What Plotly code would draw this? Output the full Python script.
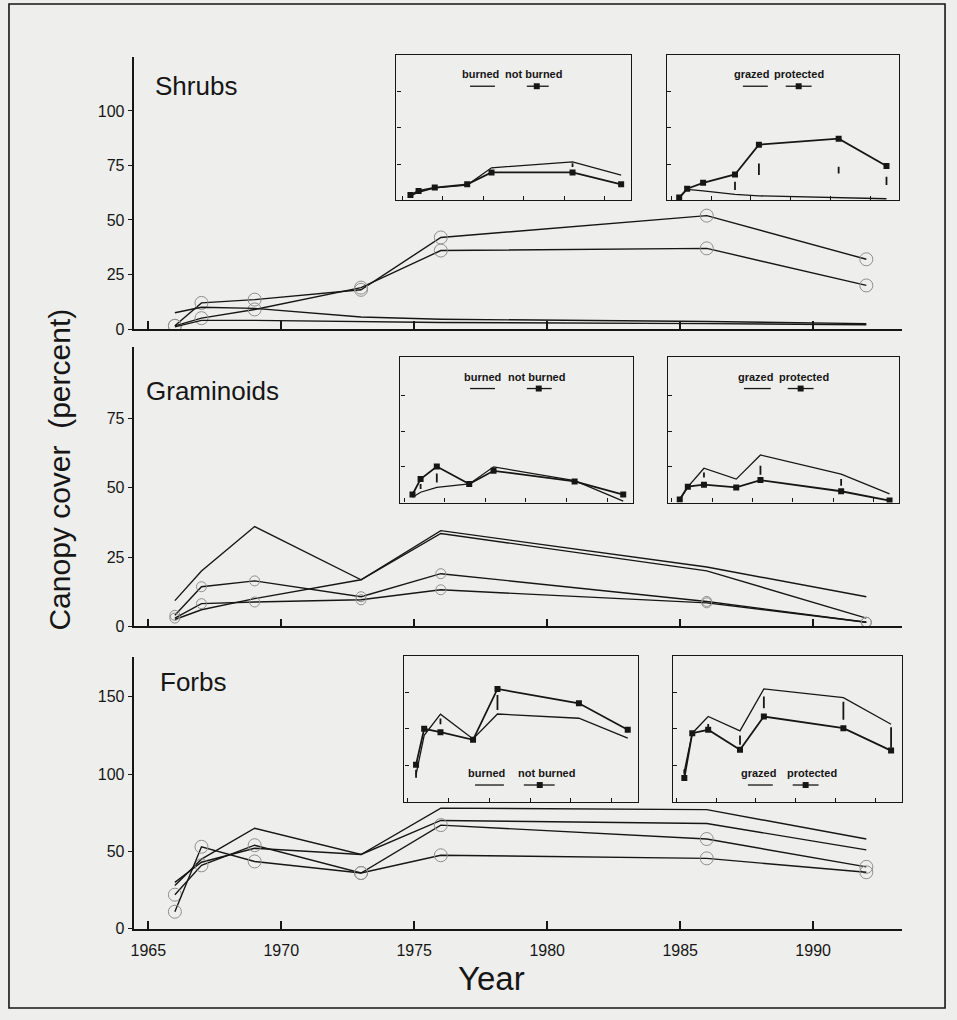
import plotly.graph_objects as go

W, H = 957, 1020
FONT = "Liberation Sans, Arial, Helvetica, sans-serif"
NARROW = "Liberation Sans Narrow, Arial Narrow, Liberation Sans, Arial, sans-serif"
INK = "#161616"
BG = "#eeeeec"

# ---------------- data ----------------
years = [1966, 1967, 1969, 1973, 1976, 1986, 1992]
xtick_years = [1965, 1970, 1975, 1980, 1985, 1990]

# main panels (four sites each); circled series carry dashed-circle markers
shrub_a = [1.5, 12, 13.5, 18, 42, 52, 32]
shrub_b = [1.5, 5, 9, 19, 36, 37, 20]
shrub_c = [7.5, 10, 9.5, 5.5, 4.5, 3.5, 2.5]
shrub_d = [1, 4, 4, 3.5, 3, 2.5, 2]

gram_a = [9.3, 20, 36, 16.8, 34.5, 21.4, 10.7]
gram_b = [2.5, 6, 10, 16.8, 33.5, 20, 3]
gram_c = [4, 14.3, 16.4, 10.7, 19, 9, 1.5]
gram_d = [3, 8.2, 8.8, 9.6, 13.2, 8.5, 1.5]

forb_a = [28, 45, 65, 48, 78, 77, 58]
forb_b = [30, 43, 52, 48, 70, 68, 51]
forb_c = [22, 41, 54, 36, 67, 58, 40]
forb_d = [11, 53, 43.5, 36, 47.5, 45.5, 36.5]

# inset panels
sh_burned = [3, 5.5, 8.5, 10.5, 22.4, 26.5, 17.3]
sh_notburned = [3.6, 6.4, 8.7, 11, 19.2, 19.2, 11]
sh_bn_lsd_years = [1986]
sh_bn_lsd_mid = [24.2]
sh_bn_lsd_half = [1.3]
sh_grazed = [1.5, 7.5, 6.5, 4, 3, 1.5, 1]
sh_protected = [1.8, 8, 12, 17.8, 38.4, 42.5, 23.7]
sh_gp_lsd_years = [1973, 1976, 1986, 1992]
sh_gp_lsd_mid = [9.9, 21.4, 20.8, 13.4]
sh_gp_lsd_half = [2.9, 4.0, 2.3, 2.9]

gr_burned = [3.7, 7.2, 10.6, 13, 25, 15.3, 1]
gr_notburned = [5.6, 16.4, 25.2, 13, 22.2, 14.8, 5.6]
gr_bn_lsd_years = [1967, 1969]
gr_bn_lsd_mid = [11.2, 17.2]
gr_bn_lsd_half = [1.7, 3.1]
gr_grazed = [2, 11, 24, 16.4, 33.3, 19.9, 6]
gr_protected = [2.1, 11.1, 12.5, 10.6, 15.7, 7.9, 1.4]
gr_gp_lsd_years = [1969, 1976, 1986]
gr_gp_lsd_mid = [19.3, 22.6, 14.1]
gr_gp_lsd_half = [1.7, 3.1, 2.3]

fo_burned = [18.6, 45.4, 59.9, 43, 60, 57.1, 43.5]
fo_notburned = [25.4, 49.9, 47.6, 42.4, 77.1, 67.3, 49.2]
fo_bn_lsd_years = [1966, 1969, 1976]
fo_bn_lsd_mid = [19.2, 55, 67.9]
fo_bn_lsd_half = [2.8, 2.0, 5.1]
fo_grazed = [20.9, 46.9, 58.3, 48.5, 77.1, 71.2, 53]
fo_protected = [16.3, 46.9, 49.2, 35.6, 58.3, 50.3, 35]
fo_gp_lsd_years = [1966, 1969, 1973, 1976, 1986, 1992]
fo_gp_lsd_mid = [20.4, 51.7, 42.2, 67.9, 62.2, 44]
fo_gp_lsd_half = [1.7, 1.4, 3.2, 4.0, 6.2, 7.0]

panel_titles = ["Shrubs", "Graminoids", "Forbs"]
y_title = "Canopy cover  (percent)"
x_title = "Year"
leg_bn = ["burned", "not burned"]
leg_gp = ["grazed", "protected"]


# ---------------- helpers ----------------
def fx(p):
    return p / W


def fy(p):
    return 1 - p / H


fig = go.Figure()

# main panel geometry (pixels): (top, bottom, ymax, tickvals)
main_panels = [
    (58, 332, 124.5, [0, 25, 50, 75, 100]),
    (350, 632, 100.7, [0, 25, 50, 75]),
    (663, 937, 175.6, [0, 50, 100, 150]),
]
main_x = (131, 902, [1964.48, 1993.35])

layout = dict(
    width=W, height=H,
    margin=dict(l=0, r=0, t=0, b=0),
    paper_bgcolor=BG, plot_bgcolor=BG,
    showlegend=False,
    font=dict(family=FONT, color=INK),
)

for i, (top, bot, ymax, tv) in enumerate(main_panels):
    n = i + 1
    xa = "xaxis" if n == 1 else f"xaxis{n}"
    ya = "yaxis" if n == 1 else f"yaxis{n}"
    layout[xa] = dict(
        domain=[fx(main_x[0]), fx(main_x[1])], range=main_x[2],
        anchor=f"y{'' if n == 1 else n}",
        tickvals=xtick_years, ticktext=[str(v) for v in xtick_years],
        showticklabels=(n == 3), ticks="inside", ticklen=8, tickwidth=1.5,
        tickcolor=INK, showline=True, linecolor=INK, linewidth=1.6,
        showgrid=False, zeroline=False, tickfont=dict(size=16, family=FONT),
        ticklabelstandoff=6,
    )
    layout[ya] = dict(
        domain=[fy(bot), fy(top)], range=[0, ymax],
        anchor=f"x{'' if n == 1 else n}",
        tickvals=tv, ticktext=[str(v) for v in tv],
        ticks="outside", ticklen=5, tickwidth=1.3, tickcolor=INK,
        showline=True, linecolor=INK, linewidth=1.6,
        showgrid=False, zeroline=False, tickfont=dict(size=16, family=FONT),
    )

# inset geometry: (left, right, top, bottom, xrange, ymax)
insets = [
    (394, 630, 55, 202, [1964.26, 1993.26], 100.7),
    (666, 899, 55, 202, [1964.5, 1993.6], 100.7),
    (398, 632, 360, 507, [1964.5, 1993.25], 102),
    (667, 899, 360, 507, [1964.57, 1993.2], 102),
    (402, 637, 662, 809, [1964.56, 1993.3], 99.5),
    (672, 902, 662, 809, [1964.6, 1993.4], 99.5),
]
for k, (l, r, t, b, xr, ymax) in enumerate(insets):
    n = k + 4
    layout[f"xaxis{n}"] = dict(
        domain=[fx(l), fx(r)], range=xr, anchor=f"y{n}",
        tickvals=xtick_years, showticklabels=False, ticks="inside",
        ticklen=4, tickwidth=1.2, tickcolor=INK, showline=True, mirror=True,
        linecolor=INK, linewidth=1.4, showgrid=False, zeroline=False,
    )
    layout[f"yaxis{n}"] = dict(
        domain=[fy(b), fy(t)], range=[0, ymax], anchor=f"x{n}",
        tickvals=[25, 50, 75], showticklabels=False, ticks="inside",
        ticklen=4, tickwidth=1.2, tickcolor=INK, showline=True, mirror=True,
        linecolor=INK, linewidth=1.4, showgrid=False, zeroline=False,
    )

fig.update_layout(**layout)

# ---------------- main traces ----------------
main_series = [
    ("x", "y", [(shrub_a, True), (shrub_b, True), (shrub_c, False), (shrub_d, False)], 13),
    ("x2", "y2", [(gram_a, False), (gram_b, False), (gram_c, True), (gram_d, True)], 10),
    ("x3", "y3", [(forb_a, False), (forb_b, False), (forb_c, True), (forb_d, True)], 13),
]
for xa, ya, series, csize in main_series:
    for vals, circled in series:
        fig.add_trace(go.Scatter(
            x=years, y=vals, xaxis=xa, yaxis=ya,
            mode="lines+markers" if circled else "lines",
            line=dict(color=INK, width=1.4),
            marker=dict(symbol="circle-open", size=csize, color="#8f8f8f",
                        line=dict(width=1)),
            hoverinfo="skip",
        ))

# ---------------- inset traces ----------------
inset_data = [
    (sh_burned, sh_notburned, sh_bn_lsd_years, sh_bn_lsd_mid, sh_bn_lsd_half),
    (sh_grazed, sh_protected, sh_gp_lsd_years, sh_gp_lsd_mid, sh_gp_lsd_half),
    (gr_burned, gr_notburned, gr_bn_lsd_years, gr_bn_lsd_mid, gr_bn_lsd_half),
    (gr_grazed, gr_protected, gr_gp_lsd_years, gr_gp_lsd_mid, gr_gp_lsd_half),
    (fo_burned, fo_notburned, fo_bn_lsd_years, fo_bn_lsd_mid, fo_bn_lsd_half),
    (fo_grazed, fo_protected, fo_gp_lsd_years, fo_gp_lsd_mid, fo_gp_lsd_half),
]
for k, (s1, s2, ly, lm, lh) in enumerate(inset_data):
    n = k + 4
    fig.add_trace(go.Scatter(
        x=years, y=s1, xaxis=f"x{n}", yaxis=f"y{n}", mode="lines",
        line=dict(color=INK, width=1.3), hoverinfo="skip"))
    fig.add_trace(go.Scatter(
        x=years, y=s2, xaxis=f"x{n}", yaxis=f"y{n}", mode="lines+markers",
        line=dict(color=INK, width=1.8),
        marker=dict(symbol="square", size=6, color=INK), hoverinfo="skip"))
    fig.add_trace(go.Scatter(
        x=ly, y=lm, xaxis=f"x{n}", yaxis=f"y{n}", mode="markers",
        marker=dict(size=1, opacity=0),
        error_y=dict(type="data", array=lh, symmetric=True, width=0,
                     thickness=1.8, color=INK),
        hoverinfo="skip"))

# ---------------- text ----------------
ann = []
title_pos = [(150, 87), (141, 394), (155, 688)]
for txt, (px, py) in zip(panel_titles, title_pos):
    ann.append(dict(text=txt, x=fx(px), y=fy(py), xref="paper", yref="paper",
                    xanchor="left", yanchor="middle", showarrow=False,
                    font=dict(size=26, family=FONT, color=INK)))
ann.append(dict(text=y_title, x=fx(56), y=fy(474), xref="paper", yref="paper",
                textangle=-90, xanchor="center", yanchor="middle",
                showarrow=False, font=dict(size=30, family=FONT, color=INK)))
ann.append(dict(text=x_title, x=fx(490), y=fy(987), xref="paper", yref="paper",
                xanchor="center", yanchor="middle", showarrow=False,
                font=dict(size=33, family=FONT, color=INK)))

# inset legends: (label left edges, label y, sample spans, sample y, square x)
legend_specs = [
    (leg_bn, (458, 501), 75, ((468, 493), (525, 547)), 87, 535),
    (leg_gp, (731, 771), 75, ((742, 767), (785, 811)), 87, 798),
    (leg_bn, (460, 504), 380, ((468, 493), (525, 550)), 392, 537),
    (leg_gp, (735, 776), 380, ((743, 770), (787, 813)), 392, 800),
    (leg_bn, (464, 514), 780, ((473, 502), (522, 553)), 792, 538),
    (leg_gp, (738, 784), 780, ((747, 772), (792, 818)), 792, 805),
]
shapes = []
for labels, (c1, c2), ty, ((a0, a1), (b0, b1)), sy, sq in legend_specs:
    for lab, cx in zip(labels, (c1, c2)):
        ann.append(dict(text=f"<b>{lab}</b>", x=fx(cx), y=fy(ty),
                        xref="paper", yref="paper", xanchor="left",
                        yanchor="middle", showarrow=False,
                        font=dict(size=11, family=NARROW, color=INK)))
    shapes.append(dict(type="line", xref="paper", yref="paper",
                       x0=fx(a0), x1=fx(a1), y0=fy(sy), y1=fy(sy),
                       line=dict(color=INK, width=1.3)))
    shapes.append(dict(type="line", xref="paper", yref="paper",
                       x0=fx(b0), x1=fx(b1), y0=fy(sy), y1=fy(sy),
                       line=dict(color=INK, width=1.3)))
    shapes.append(dict(type="rect", xref="paper", yref="paper",
                       x0=fx(sq - 3), x1=fx(sq + 3), y0=fy(sy + 3), y1=fy(sy - 3),
                       line=dict(width=0), fillcolor=INK))

# outer frame
shapes.append(dict(type="rect", xref="paper", yref="paper",
                   x0=fx(5), x1=fx(945), y0=fy(1017), y1=fy(4),
                   line=dict(color=INK, width=1.6), layer="below"))

fig.update_layout(annotations=ann, shapes=shapes)

fig.write_html("out.html", config={"displayModeBar": False},
               post_script="document.body.style.margin='0';")
